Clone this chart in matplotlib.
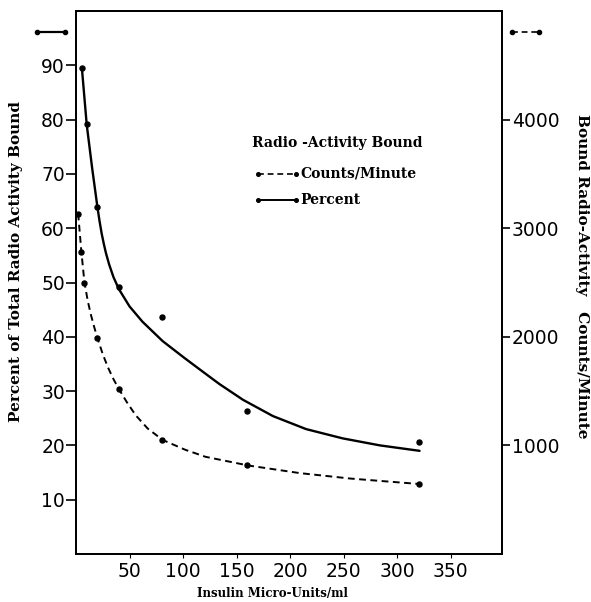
import matplotlib

matplotlib.use("Agg")
import matplotlib.pyplot as plt  # noqa: E402

pct_x = [5.5, 10, 20, 40, 80, 160, 320]
pct_y = [89.5, 79.1, 63.9, 49.2, 43.7, 26.3, 20.6]
cpm_x = [2, 5, 7.5, 20, 40, 80, 160, 320]
cpm_y = [3135, 2785, 2500, 1990, 1520, 1050, 815, 645]

# hand-drawn fitted curves, traced along their length
pct_curve_x = [5.5, 10, 15, 20, 22, 24, 26, 28, 31, 35, 40, 50, 62, 81, 102, 121, 134, 156,
               184, 215, 249, 284, 321]
pct_curve_y = [89.5, 79.1, 71.2, 63.9, 61.3, 59.0, 57.1, 55.4, 53.3, 51.0, 48.8, 45.6, 42.8,
               39.2, 36.0, 33.2, 31.3, 28.4, 25.4, 23.0, 21.3, 20.0, 19.0]
cpm_curve_x = [2, 5, 7.9, 11, 14, 17, 20, 25, 30, 35, 40, 48, 56, 67, 81, 102, 121, 161, 209,
               256, 320]
cpm_curve_y = [3135, 2785, 2500, 2330, 2200, 2090, 1990, 1840, 1715, 1610, 1520, 1390, 1275,
               1155, 1050, 960, 895, 815, 745, 695, 645]

x_ticks = [50, 100, 150, 200, 250, 300, 350]
pct_ticks = [10, 20, 30, 40, 50, 60, 70, 80, 90]
cpm_ticks = [1000, 2000, 3000, 4000]

TICK_FONT = {"family": "DejaVu Sans", "size": 13.5}
LABEL_FONT = {"family": "DejaVu Serif", "weight": "bold", "size": 11}
XLABEL_FONT = {"family": "DejaVu Serif", "weight": "bold", "size": 8.5}
KEY_FONT = {"family": "DejaVu Serif", "weight": "bold", "size": 10}
DASH = (0, (3.5, 2.3))

plt.rcParams.update({"axes.linewidth": 1.3, "font.family": "DejaVu Sans"})

fig = plt.figure(figsize=(5.91, 6.02), dpi=100)
ax = fig.add_axes([76 / 591, 48 / 602, 426 / 591, 543 / 602])
ax2 = ax.twinx()

# percent bound (left axis, solid)
ax.plot(pct_curve_x, pct_curve_y, color="black", lw=1.7, solid_capstyle="round",
        solid_joinstyle="round")
ax.plot(pct_x, pct_y, "o", color="black", ms=3.6)

# counts per minute (right axis, dashed)
ax2.plot(cpm_curve_x, cpm_curve_y, color="black", lw=1.4, linestyle=DASH)
ax2.plot(cpm_x, cpm_y, "o", color="black", ms=3.6)

ax.set_xlim(0, 398)
ax.set_ylim(0, 100)
ax2.set_ylim(0, 5000)

ax.set_xticks(x_ticks)
ax.set_xticklabels([str(t) for t in x_ticks], fontdict=TICK_FONT)
ax.set_yticks(pct_ticks)
ax.set_yticklabels([str(t) for t in pct_ticks], fontdict=TICK_FONT)
ax2.set_yticks(cpm_ticks)
ax2.set_yticklabels([str(t) for t in cpm_ticks], fontdict=TICK_FONT)

ax.tick_params(axis="y", direction="out", length=7, width=1.2, pad=1)
ax.tick_params(axis="x", direction="out", length=3, width=0.8, pad=3)
ax2.tick_params(axis="y", direction="out", length=6, width=1.2, pad=1)

# axis titles
ax.text(0.46, -0.072, "Insulin Micro-Units/ml", transform=ax.transAxes,
        ha="center", va="center", fontdict=XLABEL_FONT)
ax.text(-0.141, 0.538, "Percent of Total Radio Activity Bound", transform=ax.transAxes,
        ha="center", va="center", rotation=90, fontdict=LABEL_FONT)
ax.text(1.187, 0.512, "Bound Radio-Activity   Counts/Minute", transform=ax.transAxes,
        ha="center", va="center", rotation=270, fontdict=LABEL_FONT)

# key marks above each axis
ax.plot([-0.0915, -0.026], [0.961, 0.961], transform=ax.transAxes, clip_on=False,
        color="black", lw=1.6, marker="o", ms=3)
ax.plot([1.023, 1.087], [0.961, 0.961], transform=ax.transAxes, clip_on=False,
        color="black", lw=1.2, linestyle=DASH, marker="o", ms=3)

# legend, drawn by hand
ax.text(0.413, 0.757, "Radio -Activity Bound", transform=ax.transAxes,
        va="center", ha="left", fontdict=KEY_FONT)
ax.plot([0.427, 0.516], [0.700, 0.700], transform=ax.transAxes, color="black",
        lw=1.2, linestyle=DASH, marker="o", ms=2.6)
ax.text(0.526, 0.700, "Counts/Minute", transform=ax.transAxes,
        va="center", ha="left", fontdict=KEY_FONT)
ax.plot([0.427, 0.516], [0.652, 0.652], transform=ax.transAxes, color="black",
        lw=1.4, marker="o", ms=2.6)
ax.text(0.526, 0.652, "Percent", transform=ax.transAxes,
        va="center", ha="left", fontdict=KEY_FONT)

fig.savefig("out.png", dpi=100)
